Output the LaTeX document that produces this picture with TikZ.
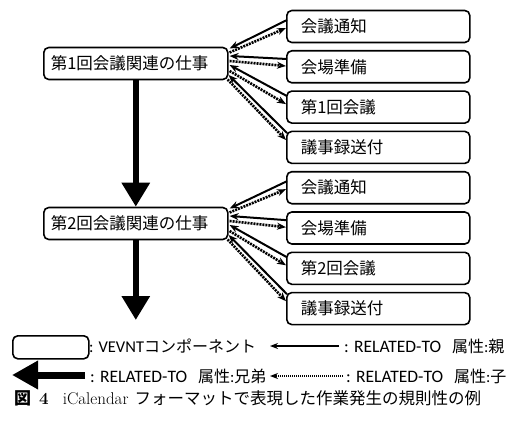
\documentclass[tikz,border=0pt]{standalone}
\usepackage{fontspec}
\newfontfamily\jpfont{Noto Sans CJK JP}
\newfontfamily\calfont{Carlito}
\usetikzlibrary{arrows.meta,calc}
\begin{document}
\begin{tikzpicture}[x=1pt,y=-1pt,
  box/.style={draw, line width=1.6pt, rounded corners=5pt, minimum height=32pt, anchor=west, align=left, inner ysep=0pt, font=\jpfont\fontsize{16.5}{18}\selectfont},
  childbox/.style={box, text width=155pt, inner xsep=14pt},
  parentbox/.style={box, text width=170pt, inner xsep=7pt},
  solidarr/.style={line width=2pt, -{Stealth[length=9pt,width=7pt]}},
  dotarr/.style={line width=2.6pt, dash pattern=on 2pt off 1pt, -{Stealth[length=9pt,width=7pt]}},
  bigarrow/.style={line width=6.5pt, -{Triangle[length=24pt,width=27pt]}},
  legtext/.style={anchor=west, inner sep=0pt, font=\jpfont\fontsize{16}{18}\selectfont},
  latin/.style={},
]
\useasboundingbox (0,0) rectangle (524,425);

\node[parentbox] (p1) at (43,63.5) {第1回会議関連の仕事};
\node[parentbox] (p2) at (43,223.5) {第2回会議関連の仕事};

\node[childbox] (c1) at (286,26.5) {会議通知};
\node[childbox] (c2) at (286,66.8) {会場準備};
\node[childbox] (c3) at (286,107.1) {第1回会議};
\node[childbox] (c4) at (286,147.4) {議事録送付};
\node[childbox] (c5) at (286,187.7) {会議通知};
\node[childbox] (c6) at (286,228) {会場準備};
\node[childbox] (c7) at (286,268.3) {第2回会議};
\node[childbox] (c8) at (286,308.6) {議事録送付};

\foreach \p/\a/\b/\c/\d in {p1/c1/c2/c3/c4, p2/c5/c6/c7/c8}{
  \draw[solidarr] ($(\a.west)+(1,-6.5)$) -- ($(\p.east)+(1,-15)$);
  \draw[dotarr] ($(\p.east)+(1,-11)$) -- ($(\a.west)+(0,1.5)$);
  \draw[solidarr] ($(\b.west)+(1,-7.8)$) -- ($(\p.east)+(1,-7.5)$);
  \draw[dotarr] ($(\p.east)+(1,-2.5)$) -- ($(\b.west)+(0,-0.8)$);
  \draw[solidarr] ($(\c.west)+(1,-11)$) -- ($(\p.east)+(1,1.5)$);
  \draw[dotarr] ($(\p.east)+(1,7.5)$) -- ($(\c.west)+(0,-3)$);
  \draw[solidarr] ($(\d.west)+(1,-14.4)$) -- ($(\p.east)+(0,11.5)$);
  \draw[dotarr] ($(\p.east)+(-1,16)$) -- ($(\d.west)+(0,-7.4)$);
}

\draw[bigarrow] (p1.south) -- (p2.north);
\coordinate (end2) at (p2.south |- 0,320);
\draw[bigarrow] (p2.south) -- (end2);

% legend
\node[draw, line width=1.6pt, rounded corners=5pt, minimum width=76pt, minimum height=23pt, inner sep=0pt, anchor=north west] (lbox) at (12,335) {};
\node[legtext] (lt1) at (89,346) {{\calfont\fontsize{16.5}{18}\selectfont : VEVNT}コンポーネント};
\coordinate (la1s) at (339,346);
\coordinate (la1e) at (270,346);
\draw[line width=1.4pt, -{Stealth[length=8pt,width=6pt]}] (la1s) -- (la1e);
\node[legtext] (lt2) at (344,346) {{\calfont\fontsize{17.5}{18}\selectfont : RELATED-TO}\hspace{11pt}属性{\calfont :}親};

\coordinate (la2s) at (85,375);
\coordinate (la2e) at (12,375);
\draw[line width=7pt, -{Triangle[length=26pt,width=27pt]}] (la2s) -- (la2e);
\node[legtext] (lt3) at (90,376) {{\calfont\fontsize{17.5}{18}\selectfont : RELATED-TO}\hspace{11pt}属性{\calfont :}兄弟};
\coordinate (la3s) at (343,376);
\coordinate (la3e) at (270,376);
\draw[line width=1.6pt, dash pattern=on 1pt off 1pt, -{Stealth[length=8pt,width=6pt]}] (la3s) -- (la3e);
\node[legtext] (lt4) at (346,376) {{\calfont\fontsize{17.5}{18}\selectfont : RELATED-TO}\hspace{11pt}属性{\calfont :}子};

\node[anchor=west, inner sep=0pt, font=\fontsize{17}{19}\selectfont] (cap) at (14,398)
  {{\jpfont\bfseries 図}\hspace{8pt}{\bfseries 4}\hspace{14pt}iCalendar\hspace{6pt}{\jpfont\fontsize{16.5}{19}\selectfont フォーマットで表現した作業発生の規則性の例}};
\end{tikzpicture}
\end{document}
